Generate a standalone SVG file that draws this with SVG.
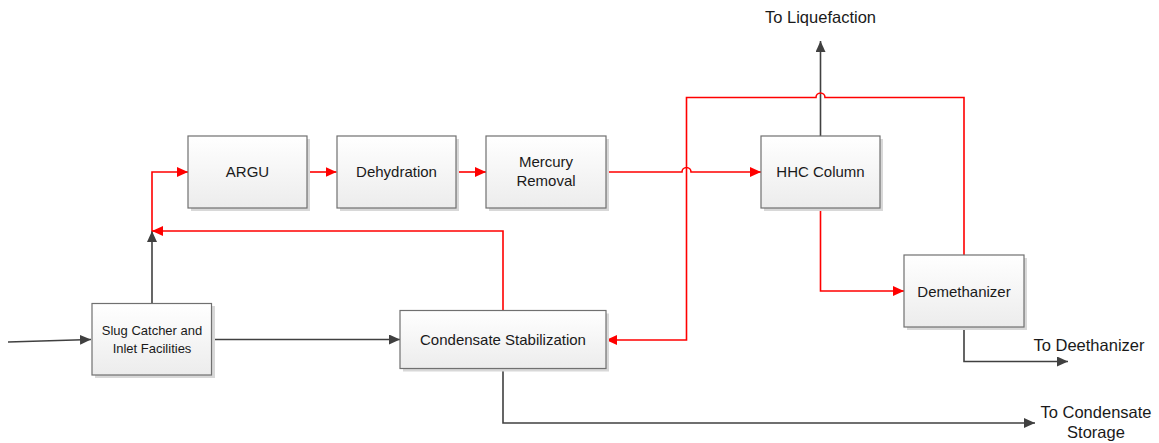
<svg xmlns="http://www.w3.org/2000/svg" width="1159" height="443" viewBox="0 0 1159 443">
  <style>
    .box { fill: url(#boxFill); stroke: #707070; stroke-width: 1.2; }
    .shadow { fill: #d8d8d8; }
    .label { font-family: "Liberation Sans", Arial, sans-serif; font-size: 15px; fill: #1a1a1a; text-anchor: middle; }
    .small { font-size: 13px; }
    .outer { font-family: "Liberation Sans", Arial, sans-serif; font-size: 16.5px; fill: #1a1a1a; text-anchor: middle; }
    .gray { fill: none; stroke: #404040; stroke-width: 1.6; }
    .red { fill: none; stroke: #ff0000; stroke-width: 1.6; }
  </style>
  <defs>
    <linearGradient id="boxFill" x1="0" y1="0" x2="0" y2="1">
      <stop offset="0" stop-color="#ffffff"/>
      <stop offset="1" stop-color="#ececec"/>
    </linearGradient>
    <marker id="arrGray" markerUnits="userSpaceOnUse" markerWidth="12" markerHeight="10" refX="11" refY="5" orient="auto">
      <path d="M0,0 L11,5 L0,10 Z" fill="#404040"/>
    </marker>
    <marker id="arrRed" markerUnits="userSpaceOnUse" markerWidth="12" markerHeight="10" refX="11" refY="5" orient="auto">
      <path d="M0,0 L11,5 L0,10 Z" fill="#ff0000"/>
    </marker>
  </defs>
  <rect width="1159" height="443" fill="#ffffff"/>

  <!-- connectors -->
  <g id="connectors">
    <!-- feed into slug catcher -->
    <path class="gray" d="M8,342 L91,339.5" marker-end="url(#arrGray)"/>
    <!-- slug catcher to condensate stabilization -->
    <path class="gray" d="M212,339.5 L400,339.5" marker-end="url(#arrGray)"/>
    <!-- slug catcher gas up -->
    <path class="gray" d="M152,303 L152,231" marker-end="url(#arrGray)"/>
    <!-- condensate overhead back to gas line -->
    <path class="red" d="M503,310.5 L503,231 L152,231" marker-end="url(#arrRed)"/>
    <!-- gas to ARGU -->
    <path class="red" d="M152,231 L152,172 L188,172" marker-end="url(#arrRed)"/>
    <path class="red" d="M307,172 L336.5,172" marker-end="url(#arrRed)"/>
    <path class="red" d="M456,172 L486,172" marker-end="url(#arrRed)"/>
    <!-- mercury removal to HHC column, hopping over the return line -->
    <path class="red" d="M606,172 L682,172 A4.5,4.5 0 0 1 691,172 L761,172" marker-end="url(#arrRed)"/>
    <!-- HHC overhead to liquefaction -->
    <path class="gray" d="M820.5,136 L820.5,41" marker-end="url(#arrGray)"/>
    <!-- HHC bottoms to demethanizer -->
    <path class="red" d="M820.5,208 L820.5,291 L904,291" marker-end="url(#arrRed)"/>
    <!-- demethanizer overhead return to condensate stabilization -->
    <path class="red" d="M964,255 L964,97.5 L825,97.5 A4.5,4.5 0 0 0 816,97.5 L686.5,97.5 L686.5,340 L606,340" marker-end="url(#arrRed)"/>
    <!-- demethanizer bottoms -->
    <path class="gray" d="M964,327 L964,361.5 L1068,361.5" marker-end="url(#arrGray)"/>
    <!-- condensate to storage -->
    <path class="gray" d="M503,368.5 L503,423 L1035,423" marker-end="url(#arrGray)"/>
  </g>

  <g id="slug-catcher">
    <rect class="shadow" x="95" y="306" width="120" height="72"/>
    <rect class="box" x="92" y="303.5" width="119.5" height="71.5"/>
    <text class="label small" x="152" y="335">Slug Catcher and</text>
    <text class="label small" x="152" y="353">Inlet Facilities</text>
  </g>

  <g id="argu">
    <rect class="shadow" x="191" y="139" width="119" height="72"/>
    <rect class="box" x="188" y="136" width="119" height="72"/>
    <text class="label" x="247.5" y="177">ARGU</text>
  </g>

  <g id="dehydration">
    <rect class="shadow" x="340" y="139" width="119" height="72"/>
    <rect class="box" x="337" y="136" width="119" height="72"/>
    <text class="label" x="396.5" y="177">Dehydration</text>
  </g>

  <g id="mercury-removal">
    <rect class="shadow" x="489" y="139" width="120" height="72"/>
    <rect class="box" x="486" y="136" width="120" height="72"/>
    <text class="label" x="546" y="167">Mercury</text>
    <text class="label" x="546" y="186">Removal</text>
  </g>

  <g id="hhc-column">
    <rect class="shadow" x="764" y="139" width="119" height="72"/>
    <rect class="box" x="761" y="136" width="119" height="72"/>
    <text class="label" x="820.5" y="177">HHC Column</text>
  </g>

  <g id="demethanizer">
    <rect class="shadow" x="907" y="258" width="120" height="72"/>
    <rect class="box" x="904" y="255" width="120" height="72"/>
    <text class="label" x="964" y="297">Demethanizer</text>
  </g>

  <g id="condensate-stabilization">
    <rect class="shadow" x="403" y="313.5" width="206" height="58"/>
    <rect class="box" x="400" y="310.5" width="206" height="58"/>
    <text class="label" x="503" y="344.5">Condensate Stabilization</text>
  </g>

  <g id="outlet-labels">
    <text class="outer" x="820.5" y="22.5">To Liquefaction</text>
    <text class="outer" x="1089" y="351">To Deethanizer</text>
    <text class="outer" x="1096" y="418">To Condensate</text>
    <text class="outer" x="1096" y="438">Storage</text>
  </g>
</svg>
